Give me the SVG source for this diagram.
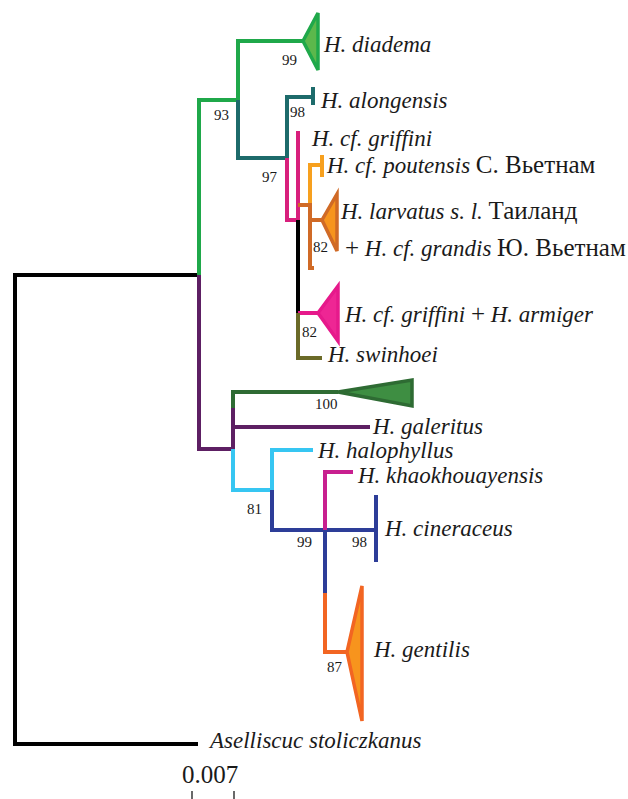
<svg xmlns="http://www.w3.org/2000/svg" width="628" height="799" viewBox="0 0 628 799">
<style>
.br{fill:none;stroke-width:4;stroke-linejoin:miter;stroke-linecap:butt}
.sp{font-family:"Liberation Serif","Times New Roman",serif;font-size:23px;font-style:italic;fill:#1a1a1a}
.ru{font-style:normal;font-size:25px}
.bs{font-family:"Liberation Serif","Times New Roman",serif;font-size:15px;fill:#1a1a1a}
.tri{stroke-width:3.5;stroke-linejoin:miter}
</style>
<rect width="628" height="799" fill="#ffffff"/>
<g id="connectors">
<path class="br" stroke="#000000" stroke-width="5" d="M199,275 H15 V744 H198"/>
<path class="br" stroke="#1fa84a" d="M199,275 V100 H238 V41 H303"/>
<path class="br" stroke="#1d6b6b" d="M238,100 V158 H287 V97 H313 M313,87 V105"/>
<path class="br" stroke="#d81f7c" d="M287,158 V220 H298 V131"/>
<path class="br" stroke="#f7a01e" d="M310,205 V165 H322 M322,155 V177"/>
<path class="br" stroke="#d06a26" d="M298,205 H310 V268 H314 M310,220 H322"/>
<path class="br" stroke="#000000" d="M298,220 V313"/>
<path class="br" stroke="#e6198b" d="M298,313 H318"/>
<path class="br" stroke="#6b6a28" d="M298,313 V358 H322"/>
<path class="br" stroke="#5d1f63" d="M199,275 V449 H233 V408 M233,427 H370"/>
<path class="br" stroke="#2e6b33" d="M233,408 V392 H338"/>
<path class="br" stroke="#36c6f2" d="M233,449 V490 H272 V450 H313"/>
<path class="br" stroke="#2d3d98" d="M272,490 V530 H376 M376,495 V562 M325,530 V593"/>
<path class="br" stroke="#c8208f" d="M325,530 V472 H353"/>
<path class="br" stroke="#f26522" d="M325,593 V652 H347"/>
</g>
<g id="n-diadema">
<polygon class="tri" points="303,41 318,13 318,70" fill="#5cb84c" stroke="#1fa84a"/>
<text class="sp" x="324" y="52">H. diadema</text>
</g>
<g id="n-alongensis"><text class="sp" x="321" y="108">H. alongensis</text></g>
<g id="n-griffini"><text class="sp" x="312" y="146">H. cf. griffini</text></g>
<g id="n-poutensis"><text class="sp" x="327" y="173">H. cf. poutensis <tspan class="ru">С. Вьетнам</tspan></text></g>
<g id="n-larvatus">
<polygon class="tri" points="322,220 337,194 337,251" fill="#f7941d" stroke="#d06a26"/>
<text class="sp" x="341" y="219">H. larvatus s. l. <tspan class="ru">Таиланд</tspan></text>
<text class="sp" x="345" y="256"><tspan class="ru">+</tspan> H. cf. grandis <tspan class="ru">Ю. Вьетнам</tspan></text>
</g>
<g id="n-armiger">
<polygon class="tri" points="318,313 338,286 338,341" fill="#ee2694" stroke="#e6198b"/>
<text class="sp" x="345" y="322">H. cf. griffini <tspan class="ru">+</tspan> H. armiger</text>
</g>
<g id="n-swinhoei"><text class="sp" x="328" y="362">H. swinhoei</text></g>
<g id="n-clade100">
<polygon class="tri" points="338,392 412,380 412,406" fill="#3e8e42" stroke="#2e6b33"/>
</g>
<g id="n-galeritus"><text class="sp" x="373" y="434">H. galeritus</text></g>
<g id="n-halophyllus"><text class="sp" x="318" y="458">H. halophyllus</text></g>
<g id="n-khaokhouayensis"><text class="sp" x="358" y="483">H. khaokhouayensis</text></g>
<g id="n-cineraceus"><text class="sp" x="385" y="536">H. cineraceus</text></g>
<g id="n-gentilis">
<polygon class="tri" points="347,652 362,586 362,721" fill="#f7941d" stroke="#f26522"/>
<text class="sp" x="374" y="657">H. gentilis</text>
</g>
<g id="n-outgroup"><text class="sp" x="210" y="748">Aselliscuc stoliczkanus</text></g>
<g id="bootstrap">
<text class="bs" x="282" y="65">99</text>
<text class="bs" x="214" y="120">93</text>
<text class="bs" x="290" y="117">98</text>
<text class="bs" x="262" y="182">97</text>
<text class="bs" x="313" y="252">82</text>
<text class="bs" x="302" y="337">82</text>
<text class="bs" x="315" y="409">100</text>
<text class="bs" x="247" y="514">81</text>
<text class="bs" x="297" y="547">99</text>
<text class="bs" x="352" y="547">98</text>
<text class="bs" x="327" y="672">87</text>
</g>
<g id="scale">
<text x="182" y="783" font-family="Liberation Serif, Times New Roman, serif" font-size="25" fill="#1a1a1a">0.007</text>
<path d="M192,791 V799 M234,791 V799" stroke="#1a1a1a" stroke-width="1.3" fill="none"/>
</g>
</svg>
